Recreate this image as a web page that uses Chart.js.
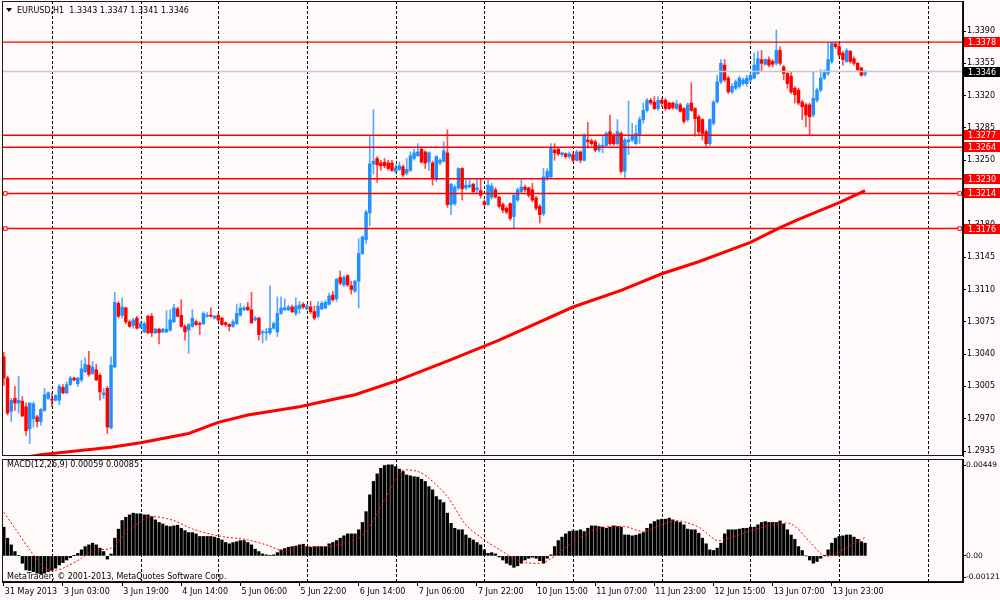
<!DOCTYPE html>
<html>
<head>
<meta charset="utf-8">
<title>EURUSD,H1</title>
<script src="https://cdn.jsdelivr.net/npm/chart.js@4.4.1/dist/chart.umd.min.js"></script>
<style>
html,body{margin:0;padding:0;background:#fffafa;width:1000px;height:600px;overflow:hidden;}
#wrap{position:relative;width:1000px;height:600px;}
#c1{position:absolute;left:0;top:0;width:1000px;height:457px;}
#c2{position:absolute;left:0;top:457px;width:1000px;height:143px;}
</style>
</head>
<body>
<div id="wrap">
<canvas id="c1" width="1000" height="457"></canvas>
<canvas id="c2" width="1000" height="143"></canvas>
</div>
<script>
// ---------------- DATA ----------------
const symbol = "EURUSD,H1";
const timeLabels = ["31 May 2013","3 Jun 03:00","3 Jun 19:00","4 Jun 14:00","5 Jun 06:00","5 Jun 22:00","6 Jun 14:00","7 Jun 06:00","7 Jun 22:00","10 Jun 15:00","11 Jun 07:00","11 Jun 23:00","12 Jun 15:00","13 Jun 07:00","13 Jun 23:00"];
const labelIdx = [0,16,32,48,64,80,96,112,128,144,160,176,192,208,224];
const dayIdx = [13,37,58,82,106,130,154,178,202,226,250];

const opens = [1.3037,1.3014,1.2978,1.2992,1.2987,1.2989,1.2983,1.2959,1.2970,1.2972,
1.2967,1.2979,1.2992,1.2991,1.2990,1.2990,1.3004,1.2998,1.3007,1.3014,
1.3008,1.3012,1.3021,1.3028,1.3019,1.3023,1.3017,1.2996,1.3003,1.2960,
1.3026,1.3095,1.3082,1.3090,1.3075,1.3071,1.3079,1.3069,1.3064,1.3081,
1.3081,1.3063,1.3067,1.3064,1.3064,1.3066,1.3075,1.3089,1.3082,1.3070,
1.3066,1.3070,1.3075,1.3073,1.3073,1.3081,1.3082,1.3079,1.3082,1.3079,
1.3074,1.3072,1.3070,1.3073,1.3082,1.3088,1.3091,1.3088,1.3077,1.3079,
1.3063,1.3063,1.3063,1.3068,1.3064,1.3084,1.3088,1.3088,1.3091,1.3084,
1.3089,1.3094,1.3089,1.3091,1.3086,1.3081,1.3089,1.3090,1.3094,1.3104,
1.3100,1.3123,1.3115,1.3125,1.3114,1.3108,1.3119,1.3149,1.3164,1.3193,
1.3246,1.3252,1.3247,1.3248,1.3247,1.3247,1.3238,1.3240,1.3243,1.3236,
1.3239,1.3252,1.3255,1.3262,1.3259,1.3248,1.3247,1.3229,1.3247,1.3249,
1.3258,1.3202,1.3203,1.3220,1.3241,1.3220,1.3221,1.3224,1.3218,1.3217,
1.3205,1.3202,1.3210,1.3218,1.3210,1.3202,1.3198,1.3203,1.3189,1.3207,
1.3216,1.3221,1.3220,1.3218,1.3209,1.3200,1.3192,1.3230,1.3232,1.3261,
1.3262,1.3256,1.3257,1.3254,1.3256,1.3250,1.3259,1.3250,1.3272,1.3271,
1.3270,1.3261,1.3265,1.3266,1.3281,1.3277,1.3268,1.3279,1.3238,1.3270,
1.3272,1.3268,1.3277,1.3294,1.3304,1.3315,1.3313,1.3306,1.3315,1.3315,
1.3312,1.3312,1.3306,1.3310,1.3306,1.3294,1.3312,1.3306,1.3297,1.3294,
1.3281,1.3268,1.3290,1.3313,1.3335,1.3353,1.3339,1.3324,1.3328,1.3330,
1.3333,1.3333,1.3337,1.3339,1.3344,1.3359,1.3354,1.3359,1.3357,1.3355,
1.3369,1.3351,1.3344,1.3341,1.3328,1.3326,1.3313,1.3310,1.3310,1.3299,
1.3315,1.3326,1.3339,1.3344,1.3357,1.3376,1.3373,1.3366,1.3357,1.3368,
1.3360,1.3355,1.3350,1.3343];

const highs = [1.3042,1.3016,1.2992,1.3005,1.3016,1.2994,1.2987,1.2987,1.2988,1.2974,
1.2981,1.3003,1.2999,1.2998,1.2996,1.3007,1.3007,1.3010,1.3016,1.3015,
1.3015,1.3033,1.3036,1.3043,1.3032,1.3029,1.3019,1.3003,1.3005,1.3037,
1.3107,1.3097,1.3101,1.3091,1.3077,1.3079,1.3081,1.3075,1.3075,1.3082,
1.3084,1.3068,1.3068,1.3068,1.3087,1.3088,1.3094,1.3091,1.3099,1.3072,
1.3073,1.3088,1.3077,1.3075,1.3086,1.3085,1.3090,1.3082,1.3084,1.3080,
1.3075,1.3073,1.3077,1.3094,1.3095,1.3092,1.3096,1.3107,1.3081,1.3080,
1.3066,1.3068,1.3114,1.3075,1.3102,1.3102,1.3100,1.3093,1.3093,1.3101,
1.3097,1.3096,1.3094,1.3097,1.3092,1.3097,1.3097,1.3098,1.3106,1.3108,
1.3122,1.3130,1.3125,1.3126,1.3119,1.3120,1.3165,1.3168,1.3196,1.3277,
1.3305,1.3254,1.3250,1.3252,1.3250,1.3250,1.3245,1.3248,1.3245,1.3252,
1.3259,1.3262,1.3268,1.3263,1.3260,1.3259,1.3249,1.3255,1.3252,1.3270,
1.3283,1.3225,1.3223,1.3242,1.3242,1.3229,1.3229,1.3225,1.3229,1.3230,
1.3207,1.3229,1.3225,1.3220,1.3211,1.3204,1.3200,1.3204,1.3214,1.3220,
1.3229,1.3223,1.3221,1.3225,1.3211,1.3202,1.3241,1.3241,1.3268,1.3268,
1.3263,1.3259,1.3258,1.3259,1.3259,1.3261,1.3260,1.3279,1.3291,1.3273,
1.3272,1.3268,1.3276,1.3281,1.3299,1.3279,1.3294,1.3281,1.3274,1.3314,
1.3290,1.3288,1.3297,1.3312,1.3317,1.3317,1.3319,1.3319,1.3317,1.3317,
1.3313,1.3313,1.3315,1.3312,1.3307,1.3312,1.3334,1.3307,1.3299,1.3295,
1.3283,1.3295,1.3315,1.3342,1.3359,1.3359,1.3341,1.3333,1.3337,1.3341,
1.3339,1.3342,1.3344,1.3366,1.3368,1.3369,1.3360,1.3362,1.3359,1.3391,
1.3373,1.3353,1.3346,1.3346,1.3330,1.3328,1.3315,1.3312,1.3312,1.3346,
1.3328,1.3348,1.3348,1.3378,1.3378,1.3378,1.3377,1.3368,1.3371,1.3369,
1.3362,1.3356,1.3351,1.3347];

const lows = [1.3006,1.2974,1.2967,1.2979,1.2976,1.2972,1.2952,1.2943,1.2961,1.2961,
1.2963,1.2978,1.2991,1.2983,1.2989,1.2985,1.2997,1.2997,1.3006,1.3011,
1.3005,1.3010,1.3020,1.3016,1.3018,1.3011,1.2990,1.2992,1.2954,1.2959,
1.3025,1.3079,1.3079,1.3073,1.3069,1.3068,1.3067,1.3068,1.3063,1.3062,
1.3059,1.3062,1.3051,1.3063,1.3063,1.3065,1.3074,1.3080,1.3069,1.3055,
1.3041,1.3069,1.3071,1.3061,1.3072,1.3080,1.3080,1.3078,1.3076,1.3071,
1.3070,1.3065,1.3069,1.3072,1.3081,1.3087,1.3087,1.3073,1.3076,1.3055,
1.3052,1.3055,1.3061,1.3067,1.3059,1.3083,1.3087,1.3087,1.3085,1.3082,
1.3084,1.3089,1.3088,1.3084,1.3077,1.3079,1.3088,1.3089,1.3093,1.3097,
1.3097,1.3115,1.3113,1.3113,1.3105,1.3107,1.3090,1.3148,1.3160,1.3179,
1.3235,1.3226,1.3239,1.3242,1.3239,1.3238,1.3236,1.3239,1.3232,1.3234,
1.3238,1.3250,1.3254,1.3247,1.3241,1.3239,1.3223,1.3227,1.3245,1.3248,
1.3199,1.3191,1.3201,1.3218,1.3207,1.3218,1.3220,1.3215,1.3214,1.3209,
1.3200,1.3201,1.3208,1.3209,1.3198,1.3193,1.3192,1.3185,1.3176,1.3205,
1.3214,1.3216,1.3210,1.3205,1.3196,1.3182,1.3190,1.3228,1.3230,1.3250,
1.3255,1.3254,1.3252,1.3252,1.3248,1.3249,1.3247,1.3249,1.3263,1.3266,
1.3259,1.3259,1.3258,1.3264,1.3266,1.3266,1.3266,1.3236,1.3230,1.3256,
1.3270,1.3267,1.3268,1.3290,1.3302,1.3310,1.3305,1.3304,1.3308,1.3304,
1.3305,1.3305,1.3305,1.3302,1.3290,1.3292,1.3303,1.3276,1.3277,1.3272,
1.3265,1.3266,1.3288,1.3312,1.3333,1.3335,1.3322,1.3322,1.3326,1.3328,
1.3331,1.3330,1.3335,1.3338,1.3343,1.3346,1.3353,1.3351,1.3351,1.3353,
1.3353,1.3337,1.3328,1.3322,1.3312,1.3310,1.3294,1.3286,1.3277,1.3297,
1.3313,1.3324,1.3337,1.3342,1.3355,1.3371,1.3362,1.3353,1.3356,1.3355,
1.3353,1.3347,1.3341,1.3341];

const closes = [1.3014,1.2976,1.2990,1.2987,1.2990,1.2973,1.2957,1.2987,1.2986,1.2967,
1.2980,1.2996,1.2998,1.2990,1.2995,1.3005,1.2998,1.3007,1.3014,1.3012,
1.3014,1.3024,1.3029,1.3018,1.3026,1.3012,1.2999,1.2998,1.2961,1.3028,
1.3096,1.3081,1.3091,1.3075,1.3070,1.3077,1.3068,1.3073,1.3073,1.3063,
1.3063,1.3067,1.3063,1.3067,1.3067,1.3077,1.3090,1.3081,1.3070,1.3064,
1.3072,1.3079,1.3072,1.3072,1.3084,1.3082,1.3081,1.3081,1.3077,1.3072,
1.3072,1.3070,1.3075,1.3084,1.3090,1.3090,1.3088,1.3074,1.3079,1.3061,
1.3064,1.3064,1.3068,1.3073,1.3084,1.3090,1.3090,1.3091,1.3086,1.3092,
1.3093,1.3091,1.3092,1.3086,1.3079,1.3092,1.3095,1.3096,1.3103,1.3099,
1.3121,1.3117,1.3123,1.3115,1.3110,1.3119,1.3149,1.3167,1.3194,1.3246,
1.3249,1.3245,1.3244,1.3244,1.3241,1.3239,1.3242,1.3244,1.3234,1.3240,
1.3255,1.3258,1.3259,1.3248,1.3247,1.3258,1.3230,1.3254,1.3250,1.3260,
1.3202,1.3224,1.3221,1.3241,1.3219,1.3223,1.3223,1.3216,1.3220,1.3212,
1.3202,1.3223,1.3222,1.3210,1.3200,1.3196,1.3194,1.3187,1.3212,1.3218,
1.3221,1.3218,1.3212,1.3207,1.3198,1.3191,1.3232,1.3238,1.3263,1.3258,
1.3257,1.3258,1.3254,1.3257,1.3250,1.3259,1.3250,1.3277,1.3270,1.3268,
1.3261,1.3266,1.3266,1.3279,1.3268,1.3268,1.3281,1.3238,1.3272,1.3272,
1.3276,1.3279,1.3294,1.3304,1.3315,1.3312,1.3306,1.3315,1.3312,1.3306,
1.3306,1.3307,1.3311,1.3303,1.3292,1.3310,1.3304,1.3295,1.3281,1.3279,
1.3268,1.3294,1.3313,1.3335,1.3355,1.3337,1.3324,1.3330,1.3335,1.3339,
1.3337,1.3339,1.3342,1.3353,1.3360,1.3355,1.3359,1.3353,1.3354,1.3369,
1.3355,1.3344,1.3333,1.3324,1.3321,1.3312,1.3308,1.3299,1.3297,1.3317,
1.3326,1.3339,1.3346,1.3359,1.3377,1.3373,1.3364,1.3359,1.3369,1.3357,
1.3355,1.3348,1.3342,1.3346];

// moving average (read at sampled bars)
const maIdx = [7,10,29,37,50,58,66,80,88,95,107,121,134,154,167,178,188,202,210,215,226,233];
const maVals = [1.2929,1.2931,1.2939,1.2944,1.2954,1.2966,1.2974,1.2983,1.2990,1.2996,1.3012,1.3034,1.3055,1.3091,1.3109,1.3127,1.3140,1.3161,1.3177,1.3186,1.3204,1.3217];

// horizontal levels
const levels = [1.3378,1.3277,1.3264,1.3230,1.3214,1.3176];
const selectedLevels = [1.3214,1.3176];
const bidLevel = 1.3346;
const priceTicks = [1.2935,1.2970,1.3005,1.3040,1.3075,1.3110,1.3145,1.3180,1.3215,1.3250,1.3285,1.3320,1.3355,1.3390];

// MACD histogram (one per bar)
const macdHist = [
0.00133,0.00082,0.00051,0.00020,0.00002,-0.00034,-0.00065,-0.00068,-0.00073,-0.00080,
-0.00083,-0.00080,-0.00073,-0.00068,-0.00057,-0.00042,-0.00031,-0.00019,-0.00008,0.00001,
0.00012,0.00028,0.00043,0.00051,0.00059,0.00051,0.00036,0.00020,-0.00015,0.00009,
0.00082,0.00124,0.00164,0.00179,0.00190,0.00198,0.00195,0.00195,0.00190,0.00190,
0.00182,0.00167,0.00155,0.00148,0.00139,0.00136,0.00139,0.00142,0.00128,0.00117,
0.00108,0.00108,0.00102,0.00090,0.00090,0.00090,0.00090,0.00087,0.00082,0.00074,
0.00062,0.00056,0.00062,0.00066,0.00071,0.00071,0.00062,0.00051,0.00031,0.00020,
0.00009,0.00005,0.00003,0.00005,0.00015,0.00028,0.00034,0.00040,0.00043,0.00046,
0.00051,0.00054,0.00043,0.00040,0.00043,0.00043,0.00043,0.00043,0.00056,0.00062,
0.00071,0.00082,0.00093,0.00102,0.00102,0.00102,0.00121,0.00155,0.00205,0.00283,
0.00345,0.00380,0.00406,0.00419,0.00422,0.00422,0.00414,0.00402,0.00391,0.00375,
0.00371,0.00367,0.00365,0.00355,0.00345,0.00321,0.00306,0.00275,0.00260,0.00247,
0.00198,0.00151,0.00128,0.00121,0.00121,0.00097,0.00082,0.00074,0.00062,0.00051,
0.00028,0.00012,0.00015,0.00009,-0.00005,-0.00019,-0.00034,-0.00042,-0.00053,-0.00046,
-0.00034,-0.00019,-0.00011,-0.00006,-0.00011,-0.00022,-0.00034,-0.00011,0.00005,0.00043,
0.00071,0.00087,0.00102,0.00113,0.00116,0.00116,0.00121,0.00113,0.00128,0.00139,
0.00139,0.00136,0.00133,0.00128,0.00133,0.00139,0.00136,0.00133,0.00097,0.00097,
0.00093,0.00096,0.00102,0.00108,0.00128,0.00148,0.00159,0.00167,0.00170,0.00170,
0.00175,0.00167,0.00159,0.00155,0.00144,0.00124,0.00121,0.00121,0.00105,0.00082,
0.00056,0.00028,0.00025,0.00036,0.00059,0.00102,0.00121,0.00121,0.00121,0.00124,
0.00128,0.00128,0.00133,0.00133,0.00144,0.00155,0.00159,0.00155,0.00155,0.00155,
0.00162,0.00148,0.00121,0.00097,0.00077,0.00043,0.00025,0.00000,-0.00019,-0.00034,
-0.00026,-0.00011,0.00001,0.00028,0.00059,0.00082,0.00090,0.00093,0.00097,0.00097,
0.00087,0.00077,0.00066,0.00059];

// MACD signal line (read at sampled bars)
const sigIdx = [0,3,7,11,13,16,21,24,29,33,37,40,46,51,58,66,71,76,80,86,89,95,98,103,106,108,112,115,120,125,130,134,138,141,146,150,155,161,168,173,178,182,188,193,197,203,208,213,218,222,225,230,233];
const sigVals = [0.00201,0.00128,0.00028,-0.00055,-0.00068,-0.00057,-0.00011,0.00025,0.00036,0.00105,0.00159,0.00182,0.00164,0.00125,0.00093,0.00074,0.00051,0.00022,0.00040,0.00043,0.00046,0.00074,0.00113,0.00260,0.00352,0.00396,0.00391,0.00360,0.00275,0.00144,0.00074,0.00030,-0.00011,-0.00031,-0.00031,0.00012,0.00077,0.00128,0.00136,0.00113,0.00144,0.00164,0.00133,0.00071,0.00087,0.00121,0.00144,0.00148,0.00066,0.00000,0.00009,0.00059,0.00085];

const macdMin = -0.00121, macdMax = 0.00449;
const macdTickVals = [-0.00098, 0, 0.00421];
const macdTickText = ["-0.00121", "0.00", "0.00449"];

// ---------------- CHART ----------------
const FONT = '"DejaVu Sans", sans-serif';
Chart.defaults.font.family = FONT;
Chart.defaults.font.size = 8;
Chart.defaults.color = '#000';
Chart.defaults.animation = false;

const UP = '#1e90ff', DOWN = '#ff0000';
const UPW = 'rgba(30,144,255,0.75)', DOWNW = 'rgba(255,0,0,0.7)';
const n = closes.length;
const bodyColors = closes.map((c, i) => c >= opens[i] ? UP : DOWN);
const wickColors = closes.map((c, i) => c >= opens[i] ? UPW : DOWNW);

function xAxis(show) {
  return {
    type: 'linear', min: -0.5, max: 259.5, offset: false, display: show,
    afterBuildTicks: s => { s.ticks = labelIdx.map(v => ({ value: v })); },
    afterFit: s => { s.paddingLeft = 0; s.paddingRight = 0; if (show) s.height = 18; },
    ticks: { autoSkip: false, maxRotation: 0, minRotation: 0, align: 'start', labelOffset: 1, padding: 1,
      callback: (v, i) => timeLabels[i] },
    grid: { offset: false, drawOnChartArea: false, drawTicks: true, tickLength: 4, color: '#000' },
    border: { display: true, color: '#000' }
  };
}

const framePlugin = {
  id: 'frame',
  beforeDatasetsDraw(chart) {
    const { ctx, chartArea: a, scales: { x } } = chart;
    ctx.save();
    ctx.strokeStyle = '#000'; ctx.lineWidth = 1; ctx.setLineDash([3, 2]);
    dayIdx.forEach(d => {
      const px = Math.round(x.getPixelForValue(d)) + 0.5;
      ctx.beginPath(); ctx.moveTo(px, a.top); ctx.lineTo(px, a.bottom); ctx.stroke();
    });
    ctx.restore();
  },
  afterDraw(chart) {
    const { ctx, chartArea: a } = chart;
    ctx.save();
    ctx.strokeStyle = '#1a1a1a'; ctx.lineWidth = 1;
    ctx.strokeRect(Math.round(a.left) + 0.5, Math.round(a.top) + 0.5, Math.round(a.right - a.left) - 1, Math.round(a.bottom - a.top) - 1);
    ctx.restore();
  }
};

const pricePanelText = {
  id: 'priceText',
  afterDraw(chart) {
    const { ctx, chartArea: a, scales: { y } } = chart;
    ctx.save();
    ctx.font = '8px ' + FONT; ctx.textBaseline = 'middle';
    const box = (v, bg) => {
      const py = Math.round(y.getPixelForValue(v));
      ctx.fillStyle = bg; ctx.fillRect(a.right + 1, py - 5, 1000 - a.right - 1, 10);
      ctx.fillStyle = '#fff'; ctx.fillText(v.toFixed(4), a.right + 5, py + 0.5);
    };
    levels.forEach(v => box(v, '#ff0000'));
    box(bidLevel, '#000000');
    // header
    ctx.fillStyle = '#000';
    ctx.beginPath(); ctx.moveTo(6, 8); ctx.lineTo(12, 8); ctx.lineTo(9, 12); ctx.closePath(); ctx.fill();
    const hdr = symbol + '  ' + [opens[n-1], highs[n-1], lows[n-1], closes[n-1]].map(v => v.toFixed(4)).join(' ');
    ctx.fillText(hdr, 17, 10.5);
    ctx.restore();
  }
};

const levelSets = levels.map(v => {
  const sel = selectedLevels.includes(v);
  return {
    type: 'line', label: 'level ' + v.toFixed(4),
    data: [{ x: -0.5, y: v }, { x: 0.4, y: v }, { x: 258.6, y: v }, { x: 259.5, y: v }],
    borderColor: '#ff0000', borderWidth: 1.4, tension: 0,
    pointRadius: sel ? [0, 2.5, 2.5, 0] : 0, pointStyle: 'rect',
    pointBackgroundColor: '#fffafa', pointBorderColor: '#ff0000', pointBorderWidth: 1,
    order: 0
  };
});

new Chart(document.getElementById('c1'), {
  type: 'bar',
  data: {
    datasets: [
      ...levelSets,
      { type: 'line', label: 'bid', data: [{ x: -0.5, y: bidLevel }, { x: 259.5, y: bidLevel }],
        borderColor: '#c8c8c8', borderWidth: 1.5, pointRadius: 0, order: 0 },
      { type: 'line', label: 'MA', data: maIdx.map((x, k) => ({ x, y: maVals[k] })),
        borderColor: '#ff0000', borderWidth: 3, pointRadius: 0, tension: 0, order: 0 },
      { label: 'body', data: opens.map((o, i) => ({ x: i, y: [o, closes[i]] })),
        backgroundColor: bodyColors, barThickness: 2.8, grouped: false, minBarLength: 1, order: 1 },
      { label: 'wick', data: lows.map((l, i) => ({ x: i, y: [l, highs[i]] })),
        backgroundColor: wickColors, barThickness: 1, grouped: false, order: 2 }
    ]
  },
  options: {
    responsive: false, devicePixelRatio: 1, animation: false, events: [],
    layout: { autoPadding: false, padding: { left: 2, top: 1, right: 0, bottom: 1 } },
    plugins: { legend: { display: false }, tooltip: { enabled: false } },
    scales: {
      x: xAxis(false),
      y: {
        type: 'linear', position: 'right', min: 1.29296, max: 1.34225, beginAtZero: false,
        afterBuildTicks: s => { s.ticks = priceTicks.map(v => ({ value: v })); },
        afterFit: s => { s.width = 37; s.paddingTop = 0; s.paddingBottom = 0; },
        ticks: { padding: 1, callback: v => Number(v).toFixed(4) },
        grid: { drawOnChartArea: false, drawTicks: true, tickLength: 3, color: '#000' },
        border: { display: true, color: '#000' }
      }
    }
  },
  plugins: [framePlugin, pricePanelText]
});

const macdText = {
  id: 'macdText',
  beforeDatasetsDraw(chart) {
    const { ctx, chartArea: a } = chart;
    ctx.save();
    ctx.font = '8px ' + FONT; ctx.textBaseline = 'middle'; ctx.fillStyle = '#000';
    ctx.fillText('MACD(12,26,9) ' + macdHist[n-1].toFixed(5) + ' ' + sigVals[sigVals.length-1].toFixed(5), a.left + 5, a.top + 6);
    ctx.fillText('MetaTrader, \u00A9 2001-2013, MetaQuotes Software Corp.', a.left + 5, a.bottom - 5);
    ctx.restore();
  }
};

new Chart(document.getElementById('c2'), {
  type: 'bar',
  data: {
    datasets: [
      { type: 'line', label: 'Signal', data: sigIdx.map((x, k) => ({ x, y: sigVals[k] })),
        borderColor: '#ff0000', borderWidth: 1, borderDash: [2, 2], pointRadius: 0, tension: 0.3, order: 0 },
      { label: 'MACD', data: macdHist.map((v, i) => ({ x: i, y: v })),
        backgroundColor: '#000', barThickness: 2.6, grouped: false, order: 1 }
    ]
  },
  options: {
    responsive: false, devicePixelRatio: 1, animation: false, events: [],
    layout: { autoPadding: false, padding: { left: 2, top: 2, right: 0, bottom: 0 } },
    plugins: { legend: { display: false }, tooltip: { enabled: false } },
    scales: {
      x: xAxis(true),
      y: {
        type: 'linear', position: 'right', min: macdMin, max: macdMax, beginAtZero: false,
        afterBuildTicks: s => { s.ticks = macdTickVals.map(v => ({ value: v })); },
        afterFit: s => { s.width = 37; s.paddingTop = 0; s.paddingBottom = 0; },
        ticks: { padding: 0, font: { size: 7.5 }, callback: (v, i) => macdTickText[i] },
        grid: { drawOnChartArea: false, drawTicks: true, tickLength: 3, color: '#000' },
        border: { display: true, color: '#000' }
      }
    }
  },
  plugins: [framePlugin, macdText]
});
</script>
</body>
</html>
